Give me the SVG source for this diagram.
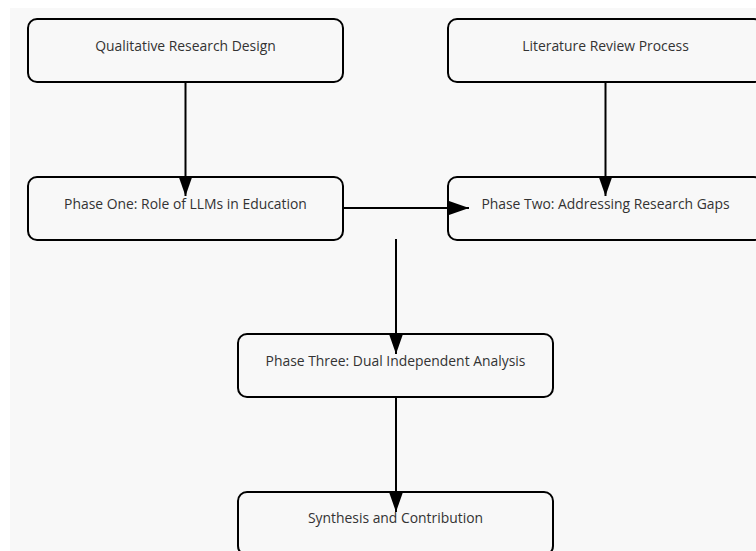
<svg xmlns="http://www.w3.org/2000/svg" width="756" height="551" viewBox="0 0 756 551">
<defs>
<style>
.node rect{fill:#f8f8f8;stroke:#000;stroke-width:2}
.node text{font-family:"Open Sans","Noto Sans",sans-serif;font-size:13.9px;fill:#333;text-anchor:middle}
.edges line{stroke:#000;stroke-width:2}
</style>
<marker id="ah" viewBox="0 0 20 14" refX="20" refY="7" markerWidth="20" markerHeight="14" markerUnits="userSpaceOnUse" orient="auto">
<path d="M0,0 L20,7 L0,14 Z" fill="#000"/>
</marker>
</defs>
<rect x="0" y="0" width="756" height="551" fill="#fff"/>
<rect x="10" y="8" width="746" height="543" fill="#f8f8f8"/>
<g id="n1" class="node"><rect x="28" y="19" width="315" height="63" rx="9"/><text x="185.5" y="51">Qualitative Research Design</text></g>
<g id="n2" class="node"><rect x="448" y="19" width="315" height="63" rx="9"/><text x="605.5" y="51">Literature Review Process</text></g>
<g id="n3" class="node"><rect x="28" y="177" width="315" height="63" rx="9"/><text x="185.5" y="209">Phase One: Role of LLMs in Education</text></g>
<g id="n4" class="node"><rect x="448" y="177" width="315" height="63" rx="9"/><text x="605.5" y="209">Phase Two: Addressing Research Gaps</text></g>
<g id="n5" class="node"><rect x="238" y="334" width="315" height="63" rx="9"/><text x="395.5" y="366">Phase Three: Dual Independent Analysis</text></g>
<g id="n6" class="node"><rect x="238" y="492" width="315" height="63" rx="9"/><text x="395.5" y="523">Synthesis and Contribution</text></g>
<g class="edges">
<line x1="185.5" y1="82" x2="185.5" y2="196" marker-end="url(#ah)"/>
<line x1="605.5" y1="82" x2="605.5" y2="196" marker-end="url(#ah)"/>
<line x1="343" y1="208" x2="469" y2="208" marker-end="url(#ah)"/>
<line x1="396" y1="239" x2="396" y2="354" marker-end="url(#ah)"/>
<line x1="396" y1="397" x2="396" y2="512" marker-end="url(#ah)"/>
</g>
</svg>
